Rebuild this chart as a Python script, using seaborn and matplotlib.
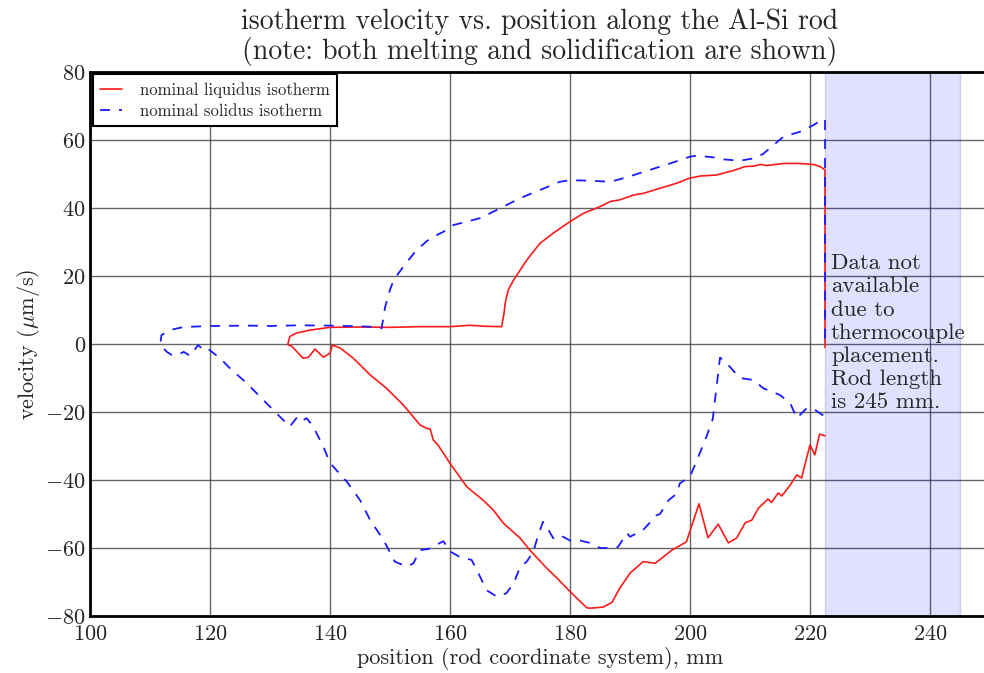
import pandas as pd
import seaborn as sns
import matplotlib.pyplot as plt

# liquidus isotherm path (negative branch from the right, then positive branch)
liquidus_x = [222.5, 221.6, 220.8, 220.0, 218.6, 217.8, 216.7, 215.3, 214.7, 213.6, 213.0,
              211.4, 210.3, 209.2, 207.8, 206.4, 204.7, 203.0, 201.5, 199.4, 197.0, 194.2,
              192.2, 190.0, 188.3, 187.0, 185.5, 183.3, 182.8, 180.0, 177.8, 176.1, 173.3,
              171.7, 168.9, 167.2, 165.5, 162.8, 160.0, 158.0, 157.2, 156.7, 156.1, 155.0,
              152.2, 149.4, 146.7, 143.9, 141.7, 140.4, 140.0, 138.9, 137.5, 136.4, 135.5,
              133.6, 133.05, 133.0, 133.3, 134.4, 136.7, 140.0, 145.0, 150.0, 155.0, 160.0,
              163.3, 166.0, 168.6, 169.0, 169.2, 169.7, 170.6, 172.8, 175.0, 177.2, 180.0,
              182.2, 185.0, 186.7, 188.3, 190.6, 192.2, 195.0, 197.8, 200.0, 201.7, 204.4,
              207.2, 209.2, 210.6, 211.7, 212.8, 215.6, 218.3, 220.6, 221.7, 222.5, 222.5]
liquidus_y = [-27.0, -26.5, -32.6, -29.7, -39.4, -38.5, -41.5, -44.7, -43.8, -46.6, -45.6,
              -48.3, -51.8, -52.6, -57.0, -58.5, -53.0, -57.0, -47.0, -58.2, -60.6, -64.5,
              -64.0, -67.4, -71.8, -76.0, -77.4, -77.7, -77.6, -72.8, -68.8, -65.9, -60.6,
              -57.1, -52.7, -48.8, -45.9, -42.0, -35.1, -29.7, -28.2, -25.0, -24.8, -23.8,
              -17.9, -13.0, -9.1, -4.2, -1.2, -0.3, -2.7, -3.9, -1.5, -3.9, -4.2,
              -0.6, -0.3, 0.2, 2.2, 3.2, 4.1, 4.9, 5.0, 4.9, 5.1, 5.1,
              5.5, 5.2, 5.1, 9.0, 12.0, 15.9, 18.8, 24.7, 29.6, 32.6, 36.0,
              38.4, 40.4, 41.9, 42.4, 43.8, 44.3, 45.8, 47.3, 48.8, 49.4, 49.7,
              51.0, 52.2, 52.3, 52.8, 52.5, 53.1, 53.1, 52.8, 52.2, 51.2, -1.0]

# solidus isotherm path
solidus_x = [222.2, 220.5, 219.5, 217.8, 216.7, 215.0, 212.2, 210.6, 208.3, 206.1, 205.0,
             203.8, 202.8, 201.2, 200.0, 198.3, 197.8, 196.4, 195.0, 194.4, 192.2, 190.0,
             189.5, 188.0, 186.7, 185.0, 183.3, 181.7, 180.0, 178.3, 177.2, 176.1, 175.5,
             174.7, 173.9, 172.8, 171.7, 170.6, 169.4, 167.8, 166.1, 165.0, 163.6, 161.7,
             160.0, 158.9, 157.8, 156.4, 155.0, 153.9, 152.8, 150.8, 148.9, 146.7, 145.0,
             142.8, 140.0, 138.9, 137.2, 136.1, 135.0, 134.4, 133.3, 131.1, 128.9, 126.1,
             123.3, 121.7, 120.3, 119.2, 118.6, 118.0, 116.7, 115.6, 114.7, 113.6, 112.8,
             111.7, 111.9, 113.3, 115.6, 120.0, 126.7, 130.0, 135.0, 140.0, 145.0, 148.0,
             148.6, 149.2, 150.0, 150.6, 152.2, 154.4, 156.7, 158.9, 160.6, 162.8, 165.0,
             167.2, 168.9, 171.7, 175.0, 178.3, 180.0, 183.9, 186.7, 189.4, 193.3, 196.7,
             200.0, 201.1, 203.9, 205.6, 208.3, 210.6, 212.2, 213.9, 215.6, 218.3, 220.6,
             222.2, 222.5, 222.5]
solidus_y = [-21.0, -19.0, -18.8, -21.8, -17.4, -15.0, -13.0, -10.6, -10.0, -5.6, -4.0,
             -22.0, -27.0, -34.0, -39.0, -41.0, -44.0, -46.0, -50.0, -50.4, -54.7, -56.7,
             -55.6, -59.7, -60.0, -60.0, -58.5, -57.8, -57.8, -56.2, -57.1, -53.7, -52.3,
             -56.2, -61.0, -64.0, -65.5, -70.4, -73.3, -74.3, -72.4, -68.4, -63.5, -62.7,
             -61.0, -58.0, -59.0, -60.3, -60.6, -64.5, -65.5, -64.0, -57.6, -51.8, -45.9,
             -40.5, -35.0, -30.2, -24.3, -21.8, -23.0, -21.8, -24.3, -20.4, -16.5, -11.5,
             -7.1, -4.2, -2.3, -0.7, -1.2, -0.3, -3.5, -2.3, -3.2, -3.2, -2.3,
             -0.3, 2.6, 4.1, 5.0, 5.3, 5.4, 5.3, 5.5, 5.4, 5.2, 5.0,
             4.6, 11.0, 15.9, 18.8, 22.7, 27.6, 31.1, 33.0, 35.0, 36.0, 37.0,
             38.9, 40.4, 42.9, 45.3, 47.7, 48.2, 48.0, 47.7, 49.0, 51.2, 53.1,
             55.1, 55.4, 54.9, 54.3, 53.9, 54.6, 55.9, 58.5, 61.0, 62.4, 64.4,
             66.2, 66.0, -0.3]

x_ticks = [100, 120, 140, 160, 180, 200, 220, 240]
y_ticks = [-80, -60, -40, -20, 0, 20, 40, 60, 80]

sns.set_style("white")
plt.rcParams["font.family"] = ["cmr10", "DejaVu Serif"]
plt.rcParams["mathtext.fontset"] = "cm"
plt.rcParams["axes.formatter.use_mathtext"] = True
plt.rcParams["axes.unicode_minus"] = True

liq = pd.DataFrame({"position": liquidus_x, "velocity": liquidus_y})
sol = pd.DataFrame({"position": solidus_x, "velocity": solidus_y})

fig = plt.figure(figsize=(9.84, 6.73), dpi=100)
ax = fig.add_axes([90 / 984, 57 / 673, 900 / 984, 544 / 673])

ax.axvspan(222.5, 245, facecolor=(0, 0, 1, 0.12), edgecolor=(0, 0, 0.6, 0.15), lw=1, zorder=1)

sns.lineplot(data=liq, x="position", y="velocity", sort=False, estimator=None,
             color="#ff1a1a", lw=1.2, label="nominal liquidus isotherm", ax=ax, zorder=3)
sns.lineplot(data=sol, x="position", y="velocity", sort=False, estimator=None,
             color="#1a1aff", lw=1.3, linestyle=(0, (5.5, 5)), label="nominal solidus isotherm",
             ax=ax, zorder=3)

ax.set_xlim(100, 250)
ax.set_ylim(-80, 80)
ax.set_xticks(x_ticks)
ax.set_yticks(y_ticks)
ax.grid(True, color="0.2", lw=1.0, alpha=0.75, zorder=0)
ax.set_axisbelow(True)
ax.tick_params(labelsize=16, direction="in", length=0)
ax.tick_params(axis="x", pad=6)
ax.tick_params(axis="y", pad=3)
for s in ax.spines.values():
    s.set_linewidth(2)
    s.set_color("black")

ax.set_xlabel("position (rod coordinate system), mm", fontsize=16, labelpad=2)
ax.set_ylabel(r"velocity ($\mu$m/s)", fontsize=16, labelpad=2)
ax.set_title("isotherm velocity vs. position along the Al-Si rod\n"
             "(note: both melting and solidification are shown)", fontsize=20, pad=9,
             linespacing=1.1)

ax.text(223.5, 26.5, "Data not\navailable\ndue to\nthermocouple\nplacement.\nRod length\nis 245 mm.",
        fontsize=16.5, va="top", ha="left", linespacing=1.23, zorder=4)

leg = ax.legend(loc="upper left", fontsize=12, fancybox=False, framealpha=1,
                edgecolor="black", handlelength=1.3, handletextpad=1.1,
                borderaxespad=0.15, borderpad=0.45, labelspacing=0.35)
leg.get_frame().set_linewidth(1.5)

fig.savefig("out.png", dpi=100)
